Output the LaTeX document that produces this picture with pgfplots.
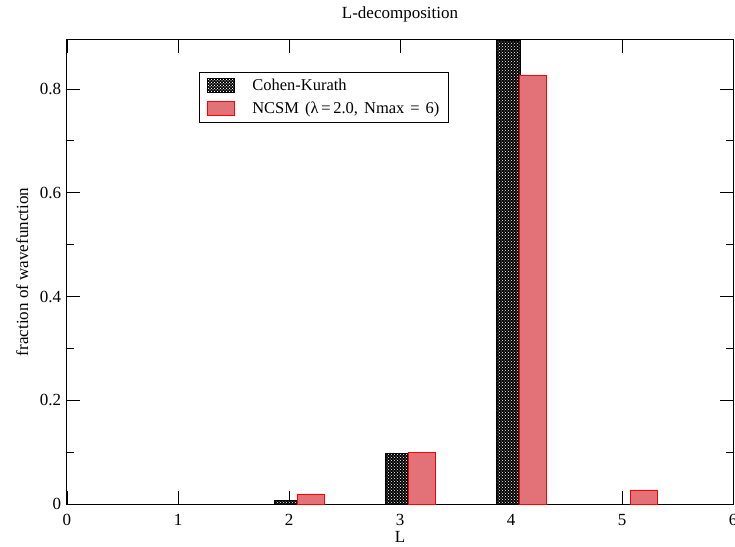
\documentclass[border=0pt]{standalone}
\usepackage{fontspec}
\setmainfont{Liberation Serif}
\usepackage{pgfplots}
\pgfplotsset{compat=1.18}
\usetikzlibrary{patterns}
\definecolor{pinkfill}{RGB}{226,114,120}
\begin{document}
\fontsize{17}{20}\selectfont
\begin{tikzpicture}
\begin{axis}[
  scale only axis, width=666pt, height=464pt,
  xmin=0, xmax=6, ymin=0, ymax=0.8945,
  xtick={0,1,2,3,4,5,6},
  ytick={0,0.2,0.4,0.6,0.8},
  yticklabels={0,0.2,0.4,0.6,0.8},
  minor y tick num=1,
  tick align=inside,
  major tick length=13pt, minor tick length=7pt,
  axis line style={line width=1pt, black},
  tick style={line width=0.8pt, black},
  /pgf/number format/assume math mode=true,
  tick label style={font=\fontsize{17}{20}\selectfont},
  xticklabel style={anchor=base, yshift=-21.5pt},
  title={L-decomposition},
  title style={at={(0.5,1)}, anchor=base, yshift=15pt, font=\fontsize{17}{20}\selectfont},
  xlabel={L},
  xlabel style={at={(0.5,0)}, anchor=base, yshift=-38.5pt, inner sep=0pt, font=\fontsize{17}{20}\selectfont},
  ylabel={fraction of wavefunction},
  ylabel style={font=\fontsize{17}{20}\selectfont},
  legend style={at={(axis cs:1.19,0.833)}, anchor=north west, draw=black, line width=0.8pt,
    fill=white, inner xsep=7.5pt, inner ysep=5pt, row sep=6pt,
    nodes={inner sep=1.5pt, font=\fontsize{16.5}{19}\selectfont},
    /tikz/every odd column/.append style={column sep=16pt}},
  legend cell align=left,
]
\addplot[ybar, bar width=0.21, bar shift=-0.025, fill=black, draw=black, line width=0.6pt,
  postaction={pattern=crosshatch dots, pattern color=white},
  legend image code/.code={\draw[fill=black, draw=black, line width=0.6pt, postaction={pattern=crosshatch dots, pattern color=white}] (0pt,-7pt) rectangle (27pt,7pt);}]
  coordinates {(2,0.0064) (3,0.0977) (4,0.894)};
\addlegendentry{Cohen-Kurath}
\addplot[ybar, bar width=0.245, bar shift=0.195, fill=pinkfill, draw=red, line width=0.8pt,
  legend image code/.code={\draw[fill=pinkfill, draw=red, line width=0.8pt] (0pt,-7pt) rectangle (27pt,7pt);}]
  coordinates {(2,0.0193) (3,0.1002) (4,0.8257) (5,0.027)};
\addlegendentry{\spaceskip=6pt NCSM (λ\,=\,2.0, Nmax = 6)}
\end{axis}
\pgfresetboundingbox
\path[use as bounding box] (current axis.south west) ++(-67pt,-42pt) rectangle ++(735pt,546pt);
\end{tikzpicture}
\end{document}
